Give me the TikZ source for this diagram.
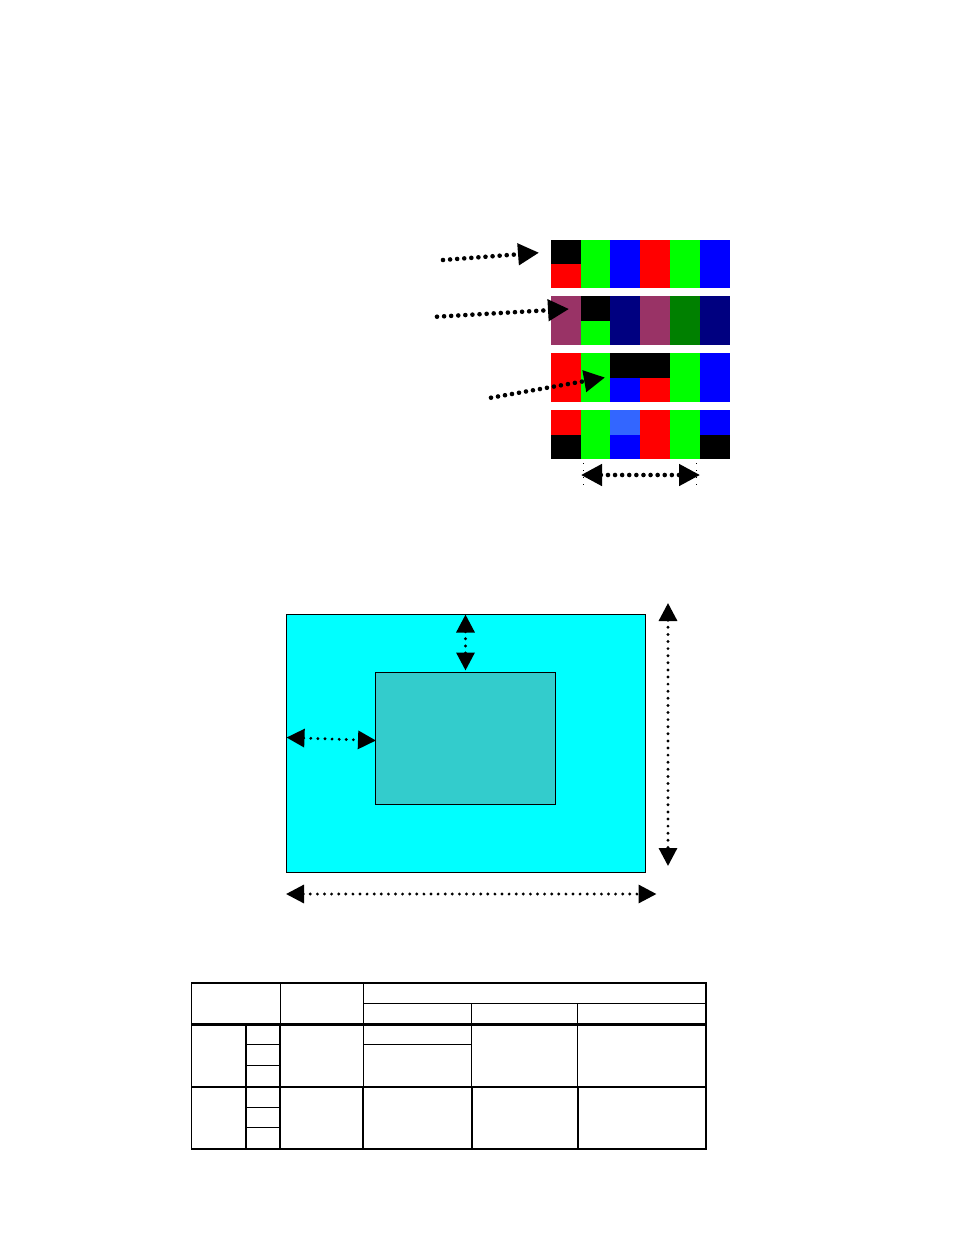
\documentclass[tikz,border=0pt]{standalone}
\usepackage{xcolor}
\usetikzlibrary{arrows.meta}
\definecolor{plum}{HTML}{993366}
\definecolor{navy}{HTML}{000080}
\definecolor{darkgreen}{HTML}{008000}
\definecolor{skyblue}{HTML}{3366FF}
\definecolor{teal}{HTML}{33CCCC}
\definecolor{aqua}{HTML}{00FFFF}
\tikzset{
	bigdots/.style={line width=4.6pt,line cap=round,dash pattern=on 0pt off 7.1pt,{Triangle[length=21pt,width=21pt]}-{Triangle[length=21pt,width=21pt]}},
	bigdotsone/.style={line width=4.6pt,line cap=round,dash pattern=on 0pt off 7.1pt,-{Triangle[length=21pt,width=21pt]}},
	smalldots/.style={line width=3.2pt,line cap=round,dash pattern=on 0pt off 7.1pt,{Triangle[length=18pt,width=18pt]}-{Triangle[length=18pt,width=18pt]}},
	tick/.style={line width=0.6pt,dash pattern=on 1pt off 6pt}
}
\begin{document}
\begin{tikzpicture}[x=1pt,y=-1pt]
	\useasboundingbox (0,0) rectangle (954,1235);
	% stripes
	\foreach \xa/\xb/\ya/\yb/\col in {
		551/581/240/264/black, 551/581/264/288/red, 581/610/240/288/green, 610/640/240/288/blue,
		640/670/240/288/red, 670/700/240/288/green, 700/730/240/288/blue,
		551/581/296/345/plum, 581/610/296/321/black, 581/610/321/345/green, 610/640/296/345/navy,
		640/670/296/345/plum, 670/700/296/345/darkgreen, 700/730/296/345/navy,
		551/581/353/402/red, 581/610/353/402/green, 610/670/353/378/black, 610/640/378/402/blue,
		640/670/378/402/red, 670/700/353/402/green, 700/730/353/402/blue,
		551/581/410/435/red, 551/581/435/459/black, 581/610/410/459/green, 610/640/410/435/skyblue,
		610/640/435/459/blue, 640/670/410/459/red, 670/700/410/459/green, 700/730/410/435/blue,
		700/730/435/459/black}
		\fill[\col] (\xa,\ya) rectangle (\xb,\yb);
	\coordinate (lineA) at (443,260);
	\coordinate (headA) at (539,252.7);
	\coordinate (lineB) at (437,316.7);
	\coordinate (headB) at (569,309);
	\coordinate (lineC) at (491,397.7);
	\coordinate (headC) at (605,377.5);
	\draw[bigdotsone] (lineA) -- (headA);
	\draw[bigdotsone] (lineB) -- (headB);
	\draw[bigdotsone] (lineC) -- (headC);
	\coordinate (pitchL) at (581,475);
	\coordinate (pitchR) at (700,475);
	\draw[bigdots] (pitchL) -- (pitchR);
	\draw[tick] (583.5,463) -- (583.5,486);
	\draw[tick] (695.8,463) -- (695.8,486);
	% panel
	\coordinate (outerA) at (286.5,614.5);
	\coordinate (outerB) at (645.5,872.3);
	\coordinate (innerA) at (375.8,672.3);
	\coordinate (innerB) at (555.3,804.3);
	\filldraw[fill=aqua,draw=black,line width=1.2pt] (outerA) rectangle (outerB);
	\filldraw[fill=teal,draw=black,line width=1.2pt] (innerA) rectangle (innerB);
	\coordinate (gapT) at (465.5,614.5);
	\coordinate (gapB) at (465.5,670.5);
	\coordinate (gapL) at (286.5,737.5);
	\coordinate (gapR) at (376,740.5);
	\coordinate (highT) at (668,603);
	\coordinate (highB) at (668,866);
	\coordinate (wideL) at (286,894);
	\coordinate (wideR) at (656.5,894);
	\draw[smalldots] (gapT) -- (gapB);
	\draw[smalldots] (gapL) -- (gapR);
	\draw[smalldots] (highT) -- (highB);
	\draw[smalldots] (wideL) -- (wideR);
	% table
	\draw[line width=1.7pt] (191.5,983) rectangle (706.3,1148.8);
	\draw[line width=3pt] (191.5,1024.5) -- (706.3,1024.5);
	\draw[line width=2.2pt] (191.5,1086.8) -- (706.3,1086.8);
	\foreach \xa/\xb/\yy in {363/706.3/1003.3, 246/280/1044.3, 363/472/1044.3, 246/280/1065.3, 246/280/1107.3, 246/280/1127.7}
		\draw[line width=1.1pt] (\xa,\yy) -- (\xb,\yy);
	\foreach \xx/\ya/\yb in {280.3/983/1024.5, 363.2/983/1086.8, 471.5/1003.3/1086.8, 577.2/1003.3/1086.8}
		\draw[line width=1.1pt] (\xx,\ya) -- (\xx,\yb);
	\foreach \xx/\ya/\yb in {246/1024.5/1148.8, 280/1024.5/1148.8, 363/1086.8/1148.8, 472/1086.8/1148.8, 577.7/1086.8/1148.8}
		\draw[line width=2pt] (\xx,\ya) -- (\xx,\yb);
\end{tikzpicture}
\end{document}
